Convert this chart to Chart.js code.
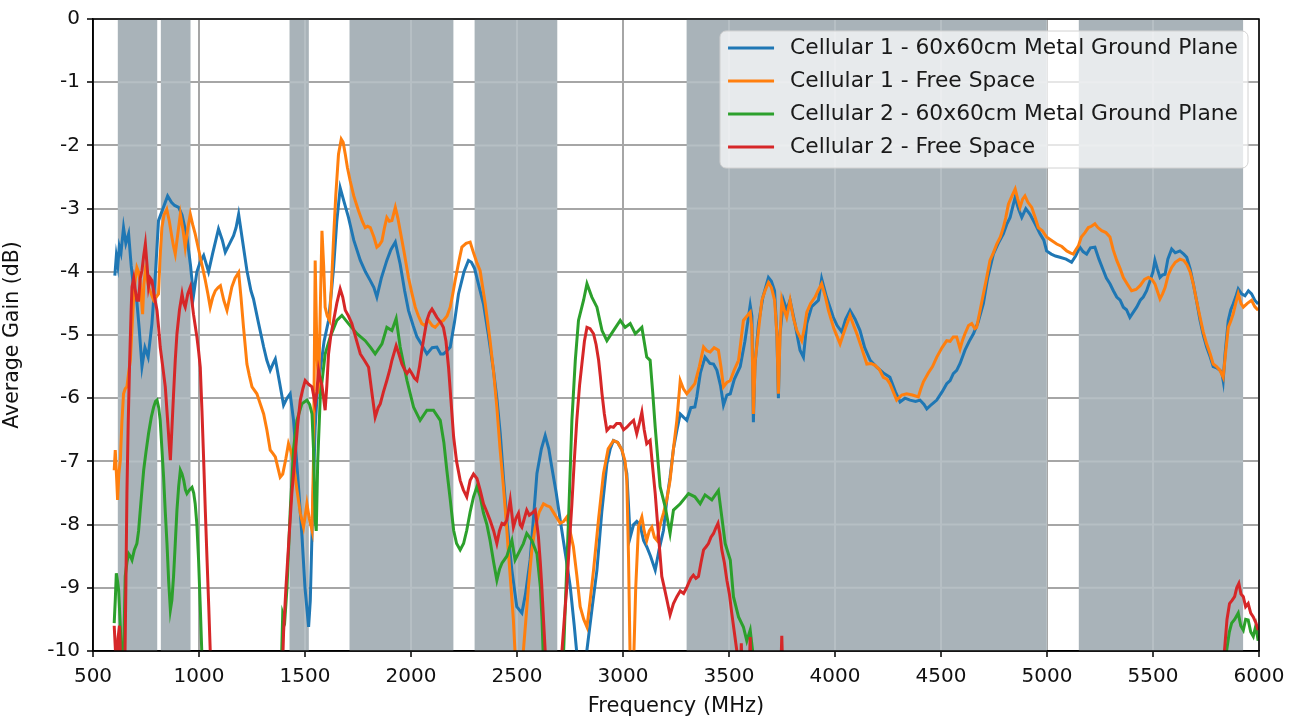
<!DOCTYPE html>
<html lang="en">
<head>
<meta charset="UTF-8">
<title>Average Gain vs Frequency</title>
<script src="https://cdn.jsdelivr.net/npm/chart.js"></script>
<style>
    body { margin: 0; background: #fff; }
    #wrap { width: 1301px; height: 722px; }
</style>
</head>
<body>
<div id="wrap"><canvas id="gainChart" width="1301" height="722"></canvas></div>
<script>
// axis ticks
const xTicks = [500, 1000, 1500, 2000, 2500, 3000, 3500, 4000, 4500, 5000, 5500, 6000];
const yTicks = [0, -1, -2, -3, -4, -5, -6, -7, -8, -9, -10];

// shaded cellular bands (MHz)
const bandStart = [617, 820, 1427, 1710, 2300, 3300, 5150];
const bandEnd   = [803, 960, 1518, 2200, 2690, 5000, 5925];

const seriesNames = [
    'Cellular 1 - 60x60cm Metal Ground Plane',
    'Cellular 1 - Free Space',
    'Cellular 2 - 60x60cm Metal Ground Plane',
    'Cellular 2 - Free Space'
];
const seriesColors = ['#1f77b4', '#ff7f0e', '#2ca02c', '#d62728'];

// Cellular 1 - ground plane
const c1GroundFreq = [
    603, 610, 617, 624, 632, 644, 655, 668, 680, 691,
    705, 718, 731, 745, 760, 778, 795, 809, 830, 852,
    870, 885, 904, 920, 943, 960, 974, 990, 1005, 1022,
    1045, 1065, 1092, 1110, 1124, 1145, 1163, 1175, 1187, 1205,
    1226, 1245, 1257, 1280, 1305, 1320, 1336, 1350, 1360, 1380,
    1399, 1415, 1430, 1446, 1465, 1485, 1500, 1517, 1525, 1533,
    1548, 1560, 1572, 1590, 1611, 1625, 1635, 1650, 1666, 1685,
    1705, 1730, 1761, 1785, 1808, 1825, 1839, 1860, 1886, 1905,
    1926, 1949, 1970, 1988, 2010, 2028, 2050, 2075, 2100, 2122,
    2140, 2153, 2170, 2185, 2205, 2224, 2250, 2271, 2285, 2300,
    2326, 2342, 2365, 2389, 2405, 2421, 2437, 2452, 2475, 2499,
    2523, 2540, 2562, 2580, 2594, 2615, 2633, 2650, 2664, 2685,
    2704, 2730, 2751, 2770, 2782, 2795, 2815, 2830, 2855, 2877,
    2900, 2924, 2940, 2955, 2975, 2995, 3018, 3034, 3050, 3065,
    3080, 3097, 3112, 3130, 3152, 3170, 3191, 3207, 3222, 3238,
    3254, 3270, 3285, 3301, 3320, 3339, 3348, 3365, 3387, 3410,
    3427, 3443, 3460, 3474, 3490, 3506, 3525, 3553, 3575, 3600,
    3608, 3615, 3622, 3639, 3660, 3686, 3700, 3715, 3726, 3733,
    3740, 3757, 3772, 3788, 3810, 3835, 3851, 3867, 3890, 3922,
    3937, 3960, 3992, 4010, 4032, 4050, 4071, 4095, 4118, 4140,
    4166, 4197, 4228, 4259, 4285, 4307, 4330, 4354, 4380, 4401,
    4420, 4433, 4455, 4480, 4505, 4527, 4543, 4558, 4574, 4590,
    4613, 4633, 4653, 4675, 4700, 4720, 4747, 4770, 4794, 4810,
    4826, 4840, 4850, 4865, 4881, 4900, 4920, 4945, 4967, 4985,
    4998, 5020, 5040, 5061, 5090, 5116, 5135, 5155, 5170, 5187,
    5205, 5226, 5245, 5266, 5280, 5297, 5313, 5329, 5345, 5360,
    5375, 5391, 5405, 5423, 5440, 5454, 5470, 5486, 5500, 5509,
    5520, 5533, 5545, 5557, 5570, 5588, 5605, 5627, 5645, 5659,
    5675, 5690, 5705, 5722, 5737, 5753, 5770, 5784, 5800, 5816,
    5825, 5831, 5840, 5855, 5867, 5878, 5890, 5902, 5918, 5934,
    5950, 5965, 5980, 5996
];
const c1GroundGain = [
    -4.06, -3.75, -3.90, -3.60, -3.70, -3.30, -3.55, -3.40, -3.90, -4.24,
    -4.40, -4.90, -5.50, -5.20, -5.35, -4.82, -4.00, -3.19, -3.00, -2.80,
    -2.90, -2.95, -2.98, -3.10, -3.45, -3.90, -4.38, -4.00, -3.85, -3.74,
    -4.00, -3.70, -3.32, -3.50, -3.69, -3.55, -3.43, -3.30, -3.09, -3.50,
    -3.98, -4.30, -4.43, -4.80, -5.19, -5.40, -5.56, -5.45, -5.38, -5.75,
    -6.11, -6.00, -5.93, -6.35, -7.20, -8.14, -9.00, -9.62, -9.20, -8.14,
    -6.46, -5.80, -5.56, -5.10, -4.77, -4.30, -3.93, -3.20, -2.67, -2.90,
    -3.14, -3.50, -3.82, -4.00, -4.14, -4.25, -4.40, -4.10, -3.82, -3.65,
    -3.53, -3.88, -4.30, -4.61, -4.85, -5.03, -5.15, -5.30, -5.20, -5.19,
    -5.30, -5.30, -5.25, -5.19, -4.80, -4.35, -4.00, -3.82, -3.85, -3.95,
    -4.30, -4.51, -5.00, -5.56, -6.00, -6.56, -7.30, -7.93, -8.70, -9.30,
    -9.40, -9.10, -8.56, -7.80, -7.19, -6.80, -6.59, -6.80, -7.09, -7.50,
    -7.93, -8.50, -8.98, -9.60, -10.03, -10.50, -10.40, -9.98, -9.30, -8.72,
    -7.80, -7.04, -6.80, -6.67, -6.70, -6.82, -7.19, -8.20, -8.00, -7.95,
    -8.00, -8.25, -8.35, -8.50, -8.72, -8.40, -8.09, -7.60, -7.25, -6.80,
    -6.51, -6.25, -6.30, -6.35, -6.15, -6.14, -5.98, -5.60, -5.35, -5.45,
    -5.46, -5.56, -5.80, -6.11, -5.95, -5.93, -5.70, -5.50, -5.10, -4.53,
    -4.70, -6.38, -5.50, -4.82, -4.40, -4.09, -4.15, -4.30, -5.00, -6.00,
    -5.00, -4.45, -4.60, -4.45, -4.80, -5.24, -5.35, -4.82, -4.55, -4.45,
    -4.11, -4.40, -4.72, -4.85, -4.95, -4.75, -4.61, -4.75, -4.93, -5.20,
    -5.40, -5.51, -5.60, -5.67, -5.90, -6.06, -6.00, -6.03, -6.05, -6.03,
    -6.10, -6.17, -6.10, -6.03, -5.90, -5.77, -5.72, -5.61, -5.56, -5.45,
    -5.24, -5.10, -4.98, -4.80, -4.50, -4.10, -3.72, -3.55, -3.40, -3.25,
    -3.14, -2.95, -2.82, -3.00, -3.14, -3.00, -3.09, -3.25, -3.40, -3.50,
    -3.67, -3.72, -3.75, -3.77, -3.80, -3.85, -3.75, -3.61, -3.68, -3.72,
    -3.62, -3.61, -3.80, -3.98, -4.10, -4.19, -4.30, -4.40, -4.45, -4.56,
    -4.60, -4.72, -4.65, -4.56, -4.45, -4.40, -4.30, -4.14, -4.00, -3.82,
    -3.95, -4.09, -4.05, -4.04, -3.80, -3.64, -3.70, -3.67, -3.72, -3.77,
    -3.95, -4.19, -4.45, -4.77, -5.00, -5.19, -5.35, -5.50, -5.52, -5.56,
    -5.60, -5.72, -5.30, -4.77, -4.60, -4.51, -4.40, -4.27, -4.35, -4.38,
    -4.30, -4.35, -4.45, -4.51
];

// Cellular 1 - free space
const c1FreeFreq = [
    600, 605, 612, 616, 622, 629, 636, 644, 652, 660,
    668, 676, 684, 691, 700, 707, 715, 723, 730, 734,
    740, 747, 755, 762, 775, 786, 798, 809, 816, 825,
    835, 848, 860, 872, 880, 888, 900, 912, 925, 935,
    948, 959, 970, 982, 995, 1006, 1018, 1030, 1042, 1053,
    1065, 1077, 1090, 1101, 1117, 1132, 1145, 1155, 1170, 1187,
    1198, 1210, 1226, 1238, 1250, 1273, 1290, 1305, 1320, 1336,
    1350, 1360, 1372, 1383, 1395, 1410, 1422, 1435, 1446, 1462,
    1478, 1493, 1509, 1520, 1533, 1540, 1548, 1556, 1564, 1572,
    1580, 1588, 1595, 1605, 1616, 1625, 1635, 1645, 1658, 1671,
    1680, 1690, 1700, 1713, 1730, 1752, 1770, 1784, 1795, 1808,
    1825, 1839, 1850, 1863, 1875, 1886, 1898, 1910, 1926, 1938,
    1949, 1968, 1988, 2005, 2020, 2035, 2051, 2065, 2083, 2100,
    2114, 2135, 2153, 2170, 2185, 2197, 2208, 2225, 2240, 2260,
    2279, 2295, 2310, 2326, 2350, 2373, 2390, 2405, 2420, 2436,
    2448, 2460, 2472, 2483, 2495, 2505, 2522, 2530, 2542, 2554,
    2570, 2586, 2605, 2625, 2640, 2656, 2680, 2704, 2720, 2735,
    2750, 2766, 2782, 2798, 2815, 2830, 2845, 2861, 2885, 2908,
    2930, 2955, 2975, 2995, 3010, 3018, 3026, 3034, 3042, 3050,
    3060, 3073, 3089, 3100, 3112, 3124, 3136, 3148, 3160, 3175,
    3191, 3207, 3222, 3238, 3254, 3270, 3285, 3301, 3320, 3339,
    3360, 3380, 3395, 3411, 3430, 3450, 3462, 3474, 3490, 3506,
    3525, 3545, 3556, 3568, 3585, 3600, 3608, 3615, 3624, 3639,
    3655, 3670, 3686, 3700, 3715, 3726, 3733, 3741, 3749, 3760,
    3772, 3788, 3805, 3820, 3843, 3855, 3867, 3885, 3906, 3920,
    3937, 3955, 3969, 3995, 4024, 4048, 4071, 4088, 4103, 4125,
    4150, 4170, 4189, 4210, 4228, 4245, 4259, 4275, 4291, 4315,
    4338, 4365, 4393, 4405, 4417, 4440, 4460, 4480, 4505, 4527,
    4543, 4558, 4574, 4590, 4600, 4613, 4630, 4645, 4660, 4668,
    4685, 4700, 4715, 4731, 4747, 4763, 4780, 4794, 4805, 4818,
    4835, 4850, 4862, 4873, 4885, 4896, 4910, 4928, 4945, 4959,
    4978, 4998, 5020, 5046, 5070, 5093, 5110, 5124, 5136, 5148,
    5162, 5179, 5195, 5210, 5226, 5240, 5258, 5278, 5297, 5312,
    5329, 5345, 5360, 5380, 5399, 5420, 5439, 5460, 5478, 5495,
    5509, 5520, 5533, 5545, 5557, 5572, 5588, 5605, 5627, 5645,
    5659, 5675, 5690, 5705, 5722, 5737, 5753, 5770, 5784, 5800,
    5816, 5831, 5842, 5855, 5867, 5878, 5890, 5902, 5915, 5926,
    5945, 5965, 5980, 5996
];
const c1FreeGain = [
    -7.14, -6.82, -7.30, -7.61, -7.20, -6.98, -6.40, -5.93, -5.85, -5.82,
    -5.60, -5.40, -4.90, -4.45, -4.10, -3.93, -4.00, -4.19, -4.50, -4.67,
    -4.20, -3.98, -4.10, -4.24, -4.35, -4.45, -4.40, -4.35, -3.80, -3.30,
    -3.10, -3.01, -3.20, -3.45, -3.60, -3.72, -3.40, -3.09, -3.35, -3.61,
    -3.30, -3.09, -3.25, -3.40, -3.60, -3.77, -3.95, -4.14, -4.35, -4.56,
    -4.40, -4.30, -4.25, -4.22, -4.45, -4.61, -4.40, -4.24, -4.10, -4.01,
    -4.40, -4.88, -5.46, -5.65, -5.82, -5.93, -6.10, -6.25, -6.50, -6.82,
    -6.88, -6.93, -7.10, -7.25, -7.20, -6.95, -6.72, -6.85, -7.04, -7.45,
    -7.82, -8.04, -7.67, -7.90, -8.09, -7.00, -3.82, -5.20, -5.93, -4.60,
    -3.35, -3.90, -4.56, -4.70, -4.77, -4.20, -3.45, -2.80, -2.14, -1.90,
    -1.95, -2.14, -2.35, -2.56, -2.80, -3.03, -3.20, -3.30, -3.28, -3.30,
    -3.45, -3.61, -3.58, -3.51, -3.30, -3.14, -3.20, -3.19, -2.98, -3.15,
    -3.35, -3.70, -4.09, -4.35, -4.56, -4.70, -4.82, -4.85, -4.77, -4.85,
    -4.88, -4.80, -4.77, -4.70, -4.56, -4.35, -4.14, -3.85, -3.61, -3.55,
    -3.53, -3.70, -3.85, -3.98, -4.50, -5.09, -5.60, -6.14, -6.80, -7.40,
    -7.90, -8.46, -9.00, -9.51, -10.30, -10.60, -10.30, -10.00, -9.50, -8.98,
    -8.40, -8.04, -7.80, -7.67, -7.70, -7.72, -7.85, -7.98, -7.95, -7.88,
    -8.10, -8.35, -8.80, -9.30, -9.50, -9.62, -9.20, -8.72, -7.90, -7.19,
    -6.80, -6.67, -6.70, -6.82, -7.00, -7.30, -8.50, -10.20, -10.50, -10.20,
    -9.00, -8.04, -7.88, -8.10, -8.25, -8.10, -8.04, -8.20, -8.25, -8.00,
    -7.82, -7.60, -7.30, -6.80, -6.35, -5.72, -5.85, -5.93, -5.85, -5.77,
    -5.50, -5.19, -5.25, -5.27, -5.20, -5.24, -5.50, -5.82, -5.75, -5.72,
    -5.55, -5.40, -5.10, -4.77, -4.70, -4.64, -4.90, -6.25, -5.40, -4.93,
    -4.45, -4.30, -4.17, -4.25, -4.45, -5.00, -5.93, -5.00, -4.45, -4.60,
    -4.72, -4.45, -4.75, -4.93, -5.09, -4.90, -4.64, -4.50, -4.40, -4.30,
    -4.19, -4.40, -4.61, -4.90, -5.14, -4.90, -4.69, -4.85, -4.98, -5.20,
    -5.46, -5.45, -5.48, -5.55, -5.67, -5.70, -5.77, -5.90, -6.03, -5.95,
    -5.93, -5.95, -5.98, -5.85, -5.74, -5.60, -5.50, -5.35, -5.20, -5.09,
    -5.10, -5.03, -5.03, -5.22, -5.10, -4.98, -4.85, -4.82, -4.90, -4.88,
    -4.60, -4.35, -4.10, -3.82, -3.70, -3.56, -3.45, -3.30, -3.15, -2.93,
    -2.80, -2.69, -2.85, -2.98, -2.85, -2.80, -2.90, -2.98, -3.15, -3.30,
    -3.35, -3.45, -3.50, -3.56, -3.60, -3.67, -3.70, -3.72, -3.65, -3.59,
    -3.45, -3.38, -3.30, -3.28, -3.24, -3.30, -3.35, -3.38, -3.45, -3.65,
    -3.82, -3.95, -4.09, -4.20, -4.30, -4.28, -4.22, -4.12, -4.09, -4.12,
    -4.19, -4.30, -4.43, -4.35, -4.25, -4.05, -3.93, -3.85, -3.80, -3.82,
    -3.88, -4.00, -4.19, -4.45, -4.72, -4.95, -5.14, -5.30, -5.46, -5.50,
    -5.56, -5.67, -5.30, -4.88, -4.78, -4.67, -4.50, -4.35, -4.50, -4.56,
    -4.50, -4.45, -4.55, -4.61
];

// Cellular 2 - ground plane (null = trace below -10 dB)
const c2GroundFreq = [
    600, 605, 610, 616, 621, 629, 636, 642, 648, 652,
    660, 668, 676, 684, 695, 707, 715, 723, 731, 739,
    750, 762, 775, 786, 795, 802, 810, 817, 825, 833,
    841, 849, 857, 865, 872, 880, 888, 896, 904, 912,
    920, 928, 936, 943, 955, 967, 975, 982, 990, 998,
    1006, 1014, 1022, 1200, 1388, 1395, 1405, 1415, 1430, 1446,
    1462, 1485, 1509, 1522, 1533, 1540, 1548, 1553, 1560, 1572,
    1595, 1619, 1650, 1674, 1705, 1745, 1784, 1810, 1831, 1863,
    1886, 1910, 1930, 1949, 1981, 2012, 2043, 2075, 2106, 2138,
    2155, 2169, 2185, 2201, 2215, 2232, 2248, 2263, 2279, 2295,
    2311, 2326, 2342, 2358, 2373, 2390, 2405, 2418, 2429, 2452,
    2476, 2491, 2515, 2530, 2546, 2570, 2594, 2610, 2618, 2625,
    2632, 2670, 2712, 2720, 2743, 2759, 2775, 2790, 2814, 2830,
    2853, 2877, 2901, 2924, 2955, 2987, 3010, 3034, 3058, 3089,
    3112, 3128, 3140, 3152, 3175, 3199, 3222, 3238, 3270, 3309,
    3339, 3364, 3387, 3419, 3450, 3466, 3482, 3506, 3521, 3545,
    3568, 3584, 3600, 3615, 3625, 4700, 5840, 5847, 5860, 5871,
    5885, 5902, 5914, 5926, 5937, 5949, 5961, 5973, 5985, 5996
];
const c2GroundGain = [
    -9.56, -9.20, -8.77, -8.90, -9.04, -9.62, -10.30, -10.40, -9.50, -8.82,
    -8.60, -8.46, -8.50, -8.56, -8.40, -8.30, -8.10, -7.77, -7.45, -7.14,
    -6.85, -6.56, -6.30, -6.14, -6.05, -6.03, -6.15, -6.35, -6.80, -7.25,
    -7.80, -8.30, -8.90, -9.35, -9.20, -8.82, -8.30, -7.77, -7.40, -7.14,
    -7.20, -7.30, -7.45, -7.51, -7.45, -7.41, -7.50, -7.67, -8.00, -8.56,
    -9.30, -10.10, -10.80, null, -10.30, -9.40, -9.50, -9.00, -7.80, -6.80,
    -6.35, -6.09, -6.03, -6.10, -6.25, -6.80, -7.93, -8.10, -7.00, -5.98,
    -5.30, -5.03, -4.77, -4.69, -4.82, -4.98, -5.09, -5.20, -5.30, -5.14,
    -4.88, -4.93, -4.74, -5.19, -5.72, -6.14, -6.35, -6.19, -6.19, -6.35,
    -6.70, -7.14, -7.60, -8.09, -8.30, -8.40, -8.30, -8.09, -7.80, -7.56,
    -7.40, -7.55, -7.82, -8.00, -8.25, -8.60, -8.88, -8.70, -8.61, -8.50,
    -8.25, -8.56, -8.40, -8.30, -8.14, -8.25, -8.46, -8.98, -9.50, -10.20,
    -10.60, null, -11.00, -10.00, -7.93, -6.35, -5.40, -4.77, -4.45, -4.19,
    -4.40, -4.56, -4.93, -5.09, -4.93, -4.77, -4.88, -4.82, -4.98, -4.88,
    -5.35, -5.40, -5.90, -6.46, -7.40, -7.72, -8.14, -7.77, -7.67, -7.51,
    -7.56, -7.67, -7.53, -7.61, -7.46, -7.88, -8.30, -8.56, -9.14, -9.46,
    -9.62, -9.84, -9.67, -10.10, -10.60, null, -10.50, -10.00, -9.70, -9.56,
    -9.50, -9.40, -9.60, -9.67, -9.50, -9.51, -9.70, -9.77, -9.60, -9.84
];

// Cellular 2 - free space (null = trace below -10 dB)
const c2FreeFreq = [
    600, 606, 612, 618, 625, 632, 640, 650, 655, 660,
    666, 673, 680, 684, 692, 700, 707, 715, 723, 731,
    739, 747, 755, 762, 770, 778, 790, 802, 810, 817,
    829, 841, 853, 861, 865, 872, 880, 888, 896, 908,
    920, 928, 935, 947, 959, 966, 974, 982, 990, 998,
    1006, 1014, 1022, 1030, 1038, 1046, 1053, 1060, 1200, 1392,
    1399, 1410, 1422, 1438, 1454, 1466, 1478, 1490, 1501, 1517,
    1533, 1548, 1556, 1564, 1572, 1580, 1595, 1603, 1611, 1622,
    1635, 1650, 1666, 1678, 1690, 1705, 1721, 1740, 1761, 1780,
    1800, 1815, 1831, 1845, 1855, 1870, 1886, 1900, 1910, 1930,
    1943, 1957, 1970, 1981, 1993, 2004, 2016, 2028, 2040, 2051,
    2063, 2075, 2087, 2099, 2110, 2122, 2140, 2153, 2165, 2177,
    2190, 2201, 2215, 2232, 2247, 2263, 2279, 2295, 2311, 2326,
    2342, 2358, 2373, 2390, 2405, 2417, 2429, 2440, 2452, 2468,
    2483, 2495, 2507, 2515, 2523, 2535, 2546, 2558, 2570, 2586,
    2601, 2610, 2617, 2625, 2633, 2640, 2670, 2705, 2712, 2723,
    2735, 2747, 2759, 2770, 2782, 2795, 2806, 2818, 2830, 2845,
    2861, 2873, 2885, 2893, 2901, 2912, 2924, 2940, 2955, 2970,
    2987, 3003, 3018, 3034, 3050, 3065, 3077, 3089, 3100, 3112,
    3128, 3140, 3152, 3168, 3183, 3195, 3207, 3222, 3238, 3254,
    3270, 3286, 3300, 3309, 3320, 3332, 3344, 3356, 3368, 3380,
    3392, 3403, 3415, 3427, 3438, 3448, 3457, 3466, 3478, 3490,
    3502, 3513, 3525, 3537, 3545, 3548, 3552, 3558, 3564, 3580,
    3594, 3600, 3606, 3700, 3743, 3749, 3755, 4700, 5830, 5837,
    5849, 5861, 5873, 5885, 5895, 5905, 5915, 5926, 5937, 5949,
    5961, 5973, 5985, 5996
];
const c2FreeGain = [
    -9.60, -10.00, -10.40, -9.80, -9.60, -10.30, -10.50, -10.30, -9.00, -7.51,
    -6.40, -5.40, -4.60, -4.24, -4.10, -4.30, -4.45, -4.45, -4.10, -3.98,
    -3.75, -3.56, -3.90, -4.24, -4.10, -4.14, -4.40, -4.61, -4.90, -5.19,
    -5.50, -5.82, -6.40, -6.80, -6.98, -6.50, -5.93, -5.40, -4.98, -4.60,
    -4.35, -4.50, -4.56, -4.35, -4.24, -4.45, -4.67, -4.85, -5.03, -5.25,
    -5.51, -6.20, -6.98, -7.80, -8.56, -9.30, -10.00, -10.60, null, -10.50,
    -9.70, -9.00, -8.35, -7.50, -6.88, -6.40, -6.03, -5.85, -5.72, -5.78,
    -5.82, -6.09, -5.90, -5.56, -5.70, -5.80, -6.19, -5.80, -5.30, -5.00,
    -4.77, -4.50, -4.27, -4.40, -4.61, -4.70, -4.82, -5.05, -5.30, -5.40,
    -5.51, -5.90, -6.30, -6.15, -6.09, -5.90, -5.72, -5.55, -5.40, -5.17,
    -5.30, -5.46, -5.55, -5.61, -5.55, -5.61, -5.68, -5.72, -5.50, -5.24,
    -5.00, -4.77, -4.65, -4.59, -4.65, -4.72, -4.80, -4.88, -5.10, -5.51,
    -6.10, -6.61, -7.00, -7.30, -7.45, -7.56, -7.30, -7.20, -7.27, -7.45,
    -7.67, -7.80, -7.93, -8.10, -8.30, -8.10, -7.98, -8.00, -7.93, -7.61,
    -8.04, -7.90, -7.82, -8.00, -8.04, -7.90, -7.77, -7.85, -7.82, -7.77,
    -8.19, -8.60, -8.98, -9.50, -10.00, -10.60, null, -10.60, -10.00, -9.50,
    -8.98, -8.30, -7.67, -7.00, -6.35, -5.80, -5.46, -5.10, -4.88, -4.90,
    -4.98, -5.15, -5.40, -5.65, -5.93, -6.25, -6.51, -6.45, -6.46, -6.40,
    -6.40, -6.50, -6.46, -6.40, -6.35, -6.56, -6.40, -6.22, -6.50, -6.72,
    -6.67, -7.10, -7.51, -8.20, -8.82, -9.00, -9.19, -9.43, -9.25, -9.14,
    -9.05, -9.09, -9.00, -8.93, -8.85, -8.80, -8.85, -8.82, -8.60, -8.40,
    -8.35, -8.30, -8.20, -8.14, -8.05, -7.98, -8.15, -8.40, -8.60, -8.88,
    -9.10, -9.40, -9.70, -10.00, -10.50, null, -10.50, -9.88, -10.50, null,
    -10.50, -9.78, -10.50, null, -10.50, -9.76, -10.50, null, -10.60, -10.00,
    -9.50, -9.25, -9.20, -9.14, -9.00, -8.93, -9.10, -9.14, -9.30, -9.25,
    -9.40, -9.46, -9.55, -9.67
];

function toPoints(freq, gain) {
    return freq.map((f, i) => ({ x: f, y: gain[i] }));
}

const FONT = '"DejaVu Sans", sans-serif';
const seriesFreq = [c1GroundFreq, c1FreeFreq, c2GroundFreq, c2FreeFreq];
const seriesGain = [c1GroundGain, c1FreeGain, c2GroundGain, c2FreeGain];

// bands, faint grid over the bands, frame and boxed legend
const decorPlugin = {
    id: 'decor',
    beforeDatasetsDraw(chart) {
        const { ctx, chartArea: a, scales: { x, y } } = chart;
        ctx.save();
        for (let i = 0; i < bandStart.length; i++) {
            const x0 = x.getPixelForValue(bandStart[i]);
            const x1 = x.getPixelForValue(bandEnd[i]);
            ctx.fillStyle = '#a9b3b9';
            ctx.fillRect(x0, a.top, x1 - x0, a.bottom - a.top);
            ctx.save();
            ctx.beginPath();
            ctx.rect(x0, a.top, x1 - x0, a.bottom - a.top);
            ctx.clip();
            ctx.strokeStyle = 'rgba(255,255,255,0.16)';
            ctx.lineWidth = 2;
            ctx.beginPath();
            xTicks.forEach(v => {
                const px = x.getPixelForValue(v);
                ctx.moveTo(px, a.top); ctx.lineTo(px, a.bottom);
            });
            yTicks.forEach(v => {
                const py = y.getPixelForValue(v);
                ctx.moveTo(x0, py); ctx.lineTo(x1, py);
            });
            ctx.stroke();
            ctx.restore();
        }
        ctx.restore();
    },
    afterDatasetsDraw(chart) {
        const { ctx, chartArea: a } = chart;
        ctx.save();
        // frame
        ctx.strokeStyle = '#000';
        ctx.lineWidth = 1.5;
        ctx.strokeRect(a.left, a.top, a.right - a.left, a.bottom - a.top);

        // legend
        ctx.font = '21.8px ' + FONT;
        const textW = Math.max(...seriesNames.map(n => ctx.measureText(n).width));
        const rowH = 33;
        const w = textW + 80, h = rowH * seriesNames.length + 5;
        const left = a.right - 11 - w, top = a.top + 12;
        ctx.beginPath();
        ctx.roundRect(left, top, w, h, 6);
        ctx.fillStyle = 'rgba(255,255,255,0.72)';
        ctx.fill();
        ctx.strokeStyle = '#d2d2d2';
        ctx.lineWidth = 1;
        ctx.stroke();
        ctx.textBaseline = 'middle';
        seriesNames.forEach((name, i) => {
            const cy = top + 17 + i * rowH;
            ctx.strokeStyle = seriesColors[i];
            ctx.lineWidth = 3;
            ctx.beginPath();
            ctx.moveTo(left + 8, cy);
            ctx.lineTo(left + 54, cy);
            ctx.stroke();
            ctx.fillStyle = '#1a1a1a';
            ctx.fillText(name, left + 70, cy);
        });
        ctx.restore();
    }
};

const datasets = seriesNames.map((name, i) => ({
    label: name,
    data: toPoints(seriesFreq[i], seriesGain[i]),
    borderColor: seriesColors[i],
    backgroundColor: seriesColors[i],
    borderWidth: 3,
    pointRadius: 0,
    tension: 0,
    spanGaps: false,
    clip: 0,
    order: 3 - i
}));

const tickFont = { family: FONT, size: 20 };

new Chart(document.getElementById('gainChart'), {
    type: 'line',
    data: { datasets: datasets },
    options: {
        responsive: false,
        animation: false,
        devicePixelRatio: 1,
        layout: { padding: { top: 18, right: 42, left: 0, bottom: 0 } },
        plugins: { legend: { display: false }, tooltip: { enabled: false } },
        scales: {
            x: {
                type: 'linear',
                min: 500,
                max: 6000,
                afterBuildTicks: s => { s.ticks = xTicks.map(v => ({ value: v })); },
                afterFit: s => { s.height = 71; },
                grid: { color: '#a6a6a6', lineWidth: 2, tickLength: 6, tickColor: '#000', tickWidth: 1.5 },
                border: { color: '#000', width: 1.5 },
                ticks: { color: '#111', font: tickFont, padding: 8, maxRotation: 0, autoSkip: false,
                    callback: v => String(v) },
                title: { display: true, text: 'Frequency (MHz)', color: '#111',
                    font: { family: FONT, size: 21 }, padding: { top: 0, bottom: 3 } }
            },
            y: {
                min: -10,
                max: 0,
                afterBuildTicks: s => { s.ticks = yTicks.map(v => ({ value: v })); },
                afterFit: s => { s.width = 93; },
                grid: { color: '#a6a6a6', lineWidth: 2, tickLength: 6, tickColor: '#000', tickWidth: 1.5 },
                border: { color: '#000', width: 1.5 },
                ticks: { color: '#111', font: tickFont, padding: 7, autoSkip: false,
                    callback: v => String(v) },
                title: { display: true, text: 'Average Gain (dB)', color: '#111',
                    font: { family: FONT, size: 20.5 }, padding: { top: 0, bottom: 6 } }
            }
        }
    },
    plugins: [decorPlugin]
});
</script>
</body>
</html>
